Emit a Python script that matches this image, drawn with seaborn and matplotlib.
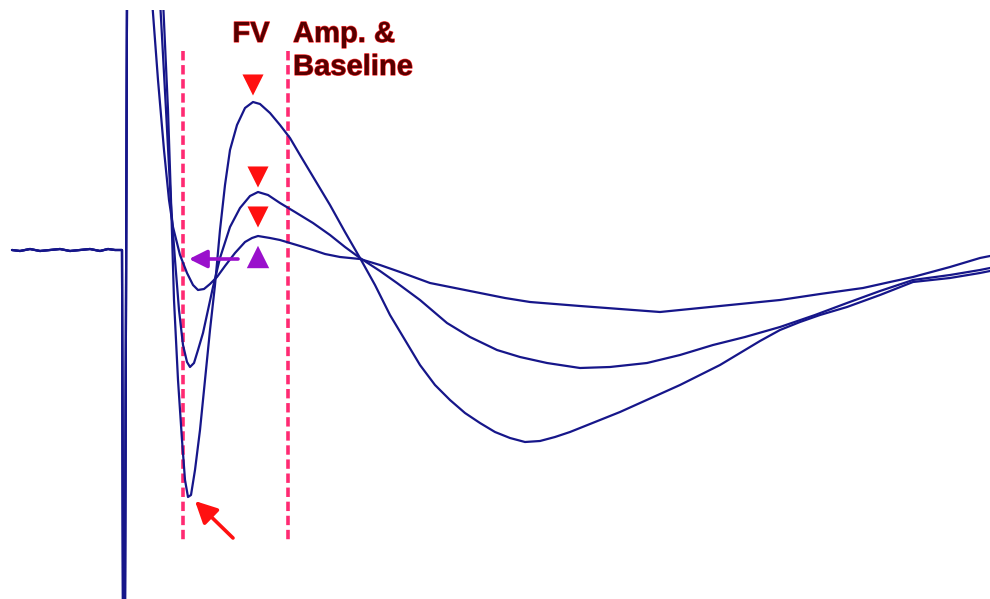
import numpy as np
import pandas as pd
import matplotlib
matplotlib.use("Agg")
import matplotlib.pyplot as plt
import matplotlib.patheffects as pe
import seaborn as sns

# ---- data (time axis in screen-sample units, response in screen units; y grows downward) ----
base_t = [12, 20, 30, 40, 50, 60, 70, 80, 90, 100, 108, 115, 122]
base_v = [250, 251, 249, 251, 250, 249, 251, 250, 249, 251, 249, 250, 250]
artifact_t = [123, 125, 127]
artifact_v = [605, 605, 0]

traceA_t = [163, 168, 171, 174, 178, 182, 185, 188, 191, 195, 200, 205, 210, 215, 220, 225,
            230, 237, 245, 253, 260, 270, 280, 290, 300, 315, 330, 345, 360, 375, 390, 405,
            420, 435, 450, 465, 480, 495, 510, 525, 540, 555, 570, 585, 600, 620, 640, 660,
            680, 700, 720, 740, 760, 780, 800, 820, 847, 880, 913, 950, 980, 990]
traceA_v = [0, 110, 200, 300, 380, 440, 480, 497, 495, 470, 430, 380, 330, 285, 230, 185,
            150, 125, 108, 102, 104, 113, 125, 138, 155, 180, 205, 232, 258, 285, 315, 340,
            365, 385, 400, 413, 423, 432, 438, 442, 441, 437, 432, 426, 420, 412, 403, 394,
            385, 375, 365, 353, 341, 330, 322, 315, 307, 295, 282, 278, 273, 271]

traceB_t = [160, 166, 171, 175, 179, 183, 187, 190, 194, 198, 203, 208, 213, 220, 230, 240,
            250, 258, 268, 280, 295, 313, 330, 345, 360, 380, 397, 420, 447, 470, 497, 520,
            547, 580, 610, 647, 680, 713, 745, 780, 815, 847, 880, 913, 950, 980, 990]
traceB_v = [0, 110, 205, 260, 310, 345, 362, 367, 363, 350, 333, 310, 287, 258, 227, 208,
            196, 192, 195, 203, 212, 223, 235, 247, 258, 271, 283, 300, 323, 337, 350, 357,
            363, 368, 367, 363, 355, 345, 337, 327, 315, 303, 291, 280, 275, 270, 268]

traceC_t = [152, 158, 164, 169, 173, 180, 187, 193, 198, 204, 210, 217, 225, 235, 245, 252,
            258, 270, 280, 290, 300, 313, 325, 340, 360, 380, 400, 430, 455, 480, 505, 530,
            555, 580, 620, 660, 700, 740, 780, 820, 863, 890, 913, 950, 980, 990]
traceC_v = [0, 80, 150, 200, 227, 255, 273, 285, 290, 289, 284, 277, 266, 253, 242, 238,
            236, 238, 240, 243, 246, 250, 254, 257, 259, 265, 272, 283, 288, 293, 298, 302,
            304, 306, 309, 312, 308, 304, 300, 294, 288, 282, 277, 267, 258, 256]

cursor_t = [183, 288]                 # FV cursor, Amp. & Baseline cursor
cursor_span = [51, 540]
peak_t = [253, 258, 258]              # red down-triangle markers
peak_v = [85, 177, 217]
fv_mark_t = [258]
fv_mark_v = [257]
labels = ["FV", "Amp. &", "Baseline"]

# ---- build long table ----
rows = []
for name, t, v in [("A", traceA_t, traceA_v), ("B", traceB_t, traceB_v), ("C", traceC_t, traceC_v)]:
    tt = base_t + artifact_t + [t[0]] + t
    vv = base_v + artifact_v + [0] + v
    for i, (a, b) in enumerate(zip(tt, vv)):
        rows.append({"trace": name, "order": i, "t": a, "v": b})
df = pd.DataFrame(rows)

sns.set_theme(style="white")
fig = plt.figure(figsize=(9.9, 5.99), dpi=100)
ax = fig.add_axes([0, 0, 1, 589 / 599])
ax.set_xlim(0, 990)
ax.set_ylim(599, 10)
ax.axis("off")

navy = "#16168a"
sns.lineplot(data=df, x="t", y="v", hue="trace", units="trace", estimator=None, sort=False,
             palette=[navy, navy, navy], linewidth=1.6, legend=False, ax=ax)

# cursors
pink = "#ff2a72"
ax.vlines(cursor_t, cursor_span[0], cursor_span[1], colors=pink, linewidth=2.6,
          linestyles=(0, (2.6, 1.3)), zorder=1)

# markers
sns.scatterplot(x=peak_t, y=peak_v, marker="v", s=230, color="#ff1010", edgecolor="none",
                ax=ax, zorder=5)
sns.scatterplot(x=fv_mark_t, y=fv_mark_v, marker="^", s=260, color="#9a10cc", edgecolor="none",
                ax=ax, zorder=5)

# arrows
ax.annotate("", xy=(189, 259), xytext=(238, 259),
            arrowprops=dict(arrowstyle="-|>,head_length=0.9,head_width=0.45",
                            color="#9a10cc", lw=2.6, shrinkA=0, shrinkB=0), zorder=6)
ax.annotate("", xy=(195, 501), xytext=(233, 538),
            arrowprops=dict(arrowstyle="-|>,head_length=1.1,head_width=0.55",
                            color="#ff1010", lw=2.6, shrinkA=0, shrinkB=0), zorder=6)

# labels
effects = [pe.withStroke(linewidth=0.9, foreground="#ff3030")]
common = dict(fontsize=21, fontweight="bold", family="Liberation Sans", color="#560000",
              path_effects=effects, va="center")
ax.text(251, 34, labels[0], ha="center", **common)
ax.text(293, 34, labels[1], ha="left", **common)
ax.text(293, 67, labels[2], ha="left", **common)

fig.savefig("out.png", dpi=100, facecolor="white")
